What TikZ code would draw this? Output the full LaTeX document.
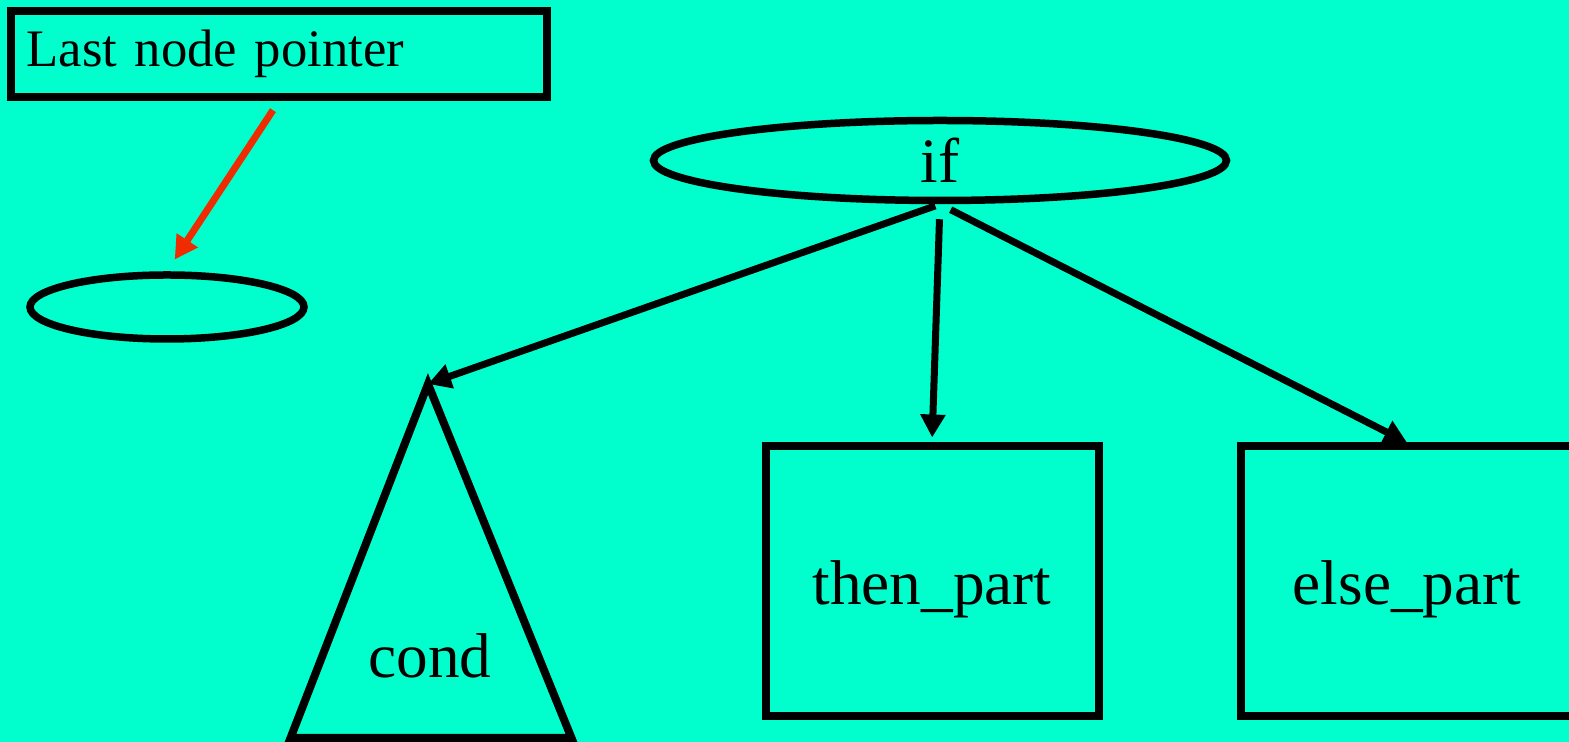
\documentclass[tikz,border=0pt]{standalone}
\usepackage{fontspec}
\setmainfont{Liberation Serif}
\usetikzlibrary{arrows.meta,shapes.geometric,positioning}
\definecolor{bgaqua}{RGB}{0,255,204}
\definecolor{ptrred}{RGB}{238,44,0}
\tikzset{box/.style={draw,line width=0.08cm,minimum width=3.33cm,minimum height=2.70cm,text height=0.47cm,text depth=0cm,font=\fontsize{18}{20}\selectfont}}
\tikzset{oval/.style={draw,ellipse,line width=0.075cm,inner sep=0pt}}
\tikzset{edge/.style={line width=0.07cm,-{Triangle[length=0.23cm,width=0.24cm]}}}

\begin{document}
\begin{tikzpicture}
    \fill [bgaqua] (0,0) rectangle (15.69,7.42);
    \useasboundingbox (0,0) rectangle (15.69,7.42);
    \node [draw,line width=0.08cm,anchor=west,minimum height=0.86cm,inner xsep=0.15cm,text width=5.05cm,align=left,font=\fontsize{15}{17}\selectfont] (ptr) at (0.075,6.88) {Last node pointer};
    \node [oval,minimum width=2.74cm,minimum height=0.64cm] (last) at (1.67,4.35) {};
    \node [oval,minimum width=5.73cm,minimum height=0.80cm,font=\fontsize{18}{20}\selectfont] (if) at (9.40,5.815) {if};
    \node [box] (then) at (9.32,1.605) {then\_part};
    \node [box] (else) at (14.07,1.605) {else\_part};
    \coordinate (condtop) at (4.28,3.58);
    \draw [line width=0.08cm] (condtop) -- (2.905,0.04) -- (5.715,0.04) -- cycle;
    \node [font=\fontsize{18}{20}\selectfont] (cond) at (4.30,0.86) {cond};
    \draw [edge,shorten <=0.05cm] (if.south) -- (condtop);
    \draw [edge,shorten <=0.15cm,shorten >=0.05cm] (if.south) -- (then.north);
    \draw [edge,shorten <=0.12cm] (if.south) -- (else.north);
    \draw [edge,ptrred,shorten <=0.11cm,shorten >=0.14cm] (ptr.south) -- (last.north);
\end{tikzpicture}
\end{document}
